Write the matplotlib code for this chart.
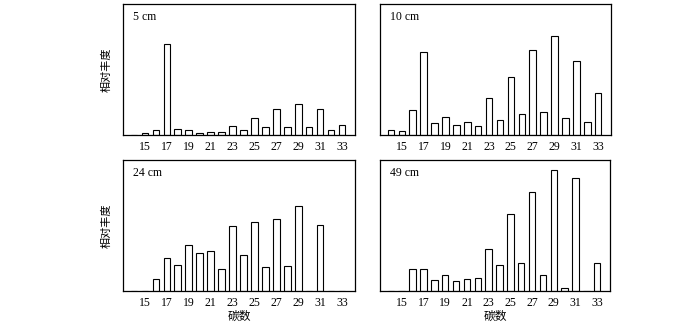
import matplotlib.pyplot as plt
import numpy as np

plt.rcParams['font.family'] = ['Liberation Serif', 'Noto Sans CJK SC', 'DejaVu Sans']

# carbon numbers C14..C33
carbon = np.arange(14, 34)
tick_labels = [15, 17, 19, 21, 23, 25, 27, 29, 31, 33]

# relative abundance (arbitrary units)
depth_5cm = [0.5, 1.7, 4.7, 91, 6.3, 5, 2, 3.3, 2.7, 9,
             4.7, 16.7, 7.7, 26.3, 8.3, 31.3, 8, 25.7, 5, 10]
depth_10cm = [5, 4.3, 25.3, 83.3, 12, 17.7, 10, 13.3, 9.3, 36.7,
              15.3, 58.3, 20.7, 84.7, 23.3, 98.7, 17.3, 74, 12.7, 42]
depth_24cm = [0, 0, 12, 33, 26, 46, 37.7, 40, 22.3, 64.7,
              36, 69.3, 23.7, 71.7, 24.7, 84.7, 0, 66, 0, 0]
depth_49cm = [0.3, 0, 22, 22, 10.7, 15.7, 9.7, 12.3, 13.3, 41.7,
              25.7, 77, 28.3, 99.3, 15.7, 120.7, 2.7, 113.3, 0, 28.3]

panels = [
    ("5 cm", depth_5cm),
    ("10 cm", depth_10cm),
    ("24 cm", depth_24cm),
    ("49 cm", depth_49cm),
]

# axes boxes in figure fractions (left, bottom, width, height)
boxes = [
    [0.1757, 0.582, 0.3314, 0.4056],
    [0.5429, 0.582, 0.3300, 0.4056],
    [0.1757, 0.0991, 0.3314, 0.4056],
    [0.5429, 0.0991, 0.3286, 0.4056],
]

fig = plt.figure(figsize=(7, 3.23), dpi=100)

for i, (name, vals) in enumerate(panels):
    ax = fig.add_axes(boxes[i])
    ax.bar(carbon, vals, width=0.6, color="white", edgecolor="black", linewidth=0.8)
    ax.set_xlim(13, 34.18)
    ax.set_ylim(0, 131)
    ax.set_xticks(tick_labels)
    ax.set_xticklabels([str(t) for t in tick_labels], fontsize=8.5)
    ax.set_yticks([])
    ax.tick_params(axis="x", length=0, pad=4.5)
    for s in ax.spines.values():
        s.set_linewidth(0.9)
    ax.text(0.045, 0.88, name, transform=ax.transAxes, fontsize=8.5)
    if i % 2 == 0:
        ax.set_ylabel("相对丰度", family=['Noto Sans CJK SC'], fontsize=8, labelpad=8)
    if i >= 2:
        # x label sits right at the bottom edge, as in the source figure
        b = boxes[i]
        fig.text(b[0] + b[2] / 2, 0.02, "碳数", family=['Noto Sans CJK SC'],
                 fontsize=8.5, ha="center", va="center")

fig.savefig("out.png", dpi=100)
